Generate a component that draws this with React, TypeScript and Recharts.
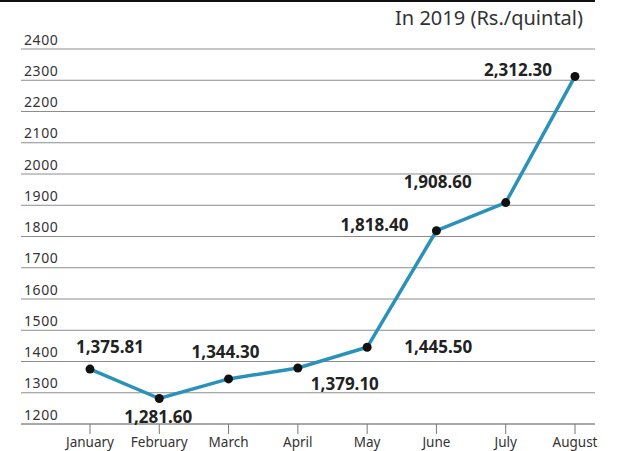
import { LineChart, Line, XAxis, YAxis, CartesianGrid, LabelList } from 'recharts'

const MONTHS = ['January', 'February', 'March', 'April', 'May', 'June', 'July', 'August']
const PRICES = [1375.81, 1281.6, 1344.3, 1379.1, 1445.5, 1818.4, 1908.6, 2312.3]
const PRICE_LABELS = ['1,375.81', '1,281.60', '1,344.30', '1,379.10', '1,445.50', '1,818.40', '1,908.60', '2,312.30']
const Y_TICKS = [1200, 1300, 1400, 1500, 1600, 1700, 1800, 1900, 2000, 2100, 2200, 2300, 2400]

// label placement relative to each dot (dx, dy)
const LABEL_OFFSETS: [number, number][] = [
  [20, -23],
  [-1, 18],
  [-3, -27],
  [47, 15],
  [71, -1],
  [-62, -6],
  [-68, -21],
  [-57, -7],
]

const FONT = '"Noto Sans", sans-serif'

const data = MONTHS.map((month, i) => ({ month, price: PRICES[i], label: PRICE_LABELS[i] }))

function YTick(props: any) {
  const { y, payload } = props
  return (
    <text
      x={24}
      y={y - 10}
      textAnchor="start"
      dominantBaseline="central"
      fontSize={14}
      letterSpacing={0.6}
      fill="#333"
      fontFamily={FONT}
    >
      {payload.value}
    </text>
  )
}

function ValueLabel(props: any) {
  const { x, y, value, index } = props
  const [dx, dy] = LABEL_OFFSETS[index] ?? [0, -15]
  return (
    <text
      x={x + dx}
      y={y + dy}
      textAnchor="middle"
      dominantBaseline="central"
      fontSize={17}
      fontWeight={700}
      fill="#222"
      fontFamily={FONT}
    >
      {value}
    </text>
  )
}

export default function App() {
  return (
    <div style={{ position: 'relative', width: 634, height: 451, background: '#fff', fontFamily: FONT }}>
      <style>{'body{margin:0}'}</style>
      <div style={{ position: 'absolute', left: 0, top: 0, width: 595, height: 2, background: '#111' }} />
      <div
        style={{
          position: 'absolute',
          right: 634 - 583,
          top: 4,
          fontSize: 20,
          color: '#333',
          whiteSpace: 'nowrap',
        }}
      >
        In 2019 (Rs./quintal)
      </div>
      <LineChart width={634} height={451} data={data} margin={{ top: 49, right: 39, left: 1, bottom: 0 }}>
        <CartesianGrid horizontal vertical={false} stroke="#8c8c8c" strokeWidth={1} />
        <XAxis
          dataKey="month"
          height={27}
          padding={{ left: 69, right: 20 }}
          tickSize={10}
          tickMargin={3}
          tickLine={{ stroke: '#777' }}
          axisLine={{ stroke: '#8c8c8c' }}
          tick={{ fontSize: 13.5, fill: '#333', fontFamily: FONT }}
          interval={0}
        />
        <YAxis
          width={20}
          domain={[1200, 2400]}
          ticks={Y_TICKS}
          tickLine={false}
          axisLine={false}
          tick={<YTick />}
          interval={0}
        />
        <Line
          type="linear"
          dataKey="price"
          stroke="#2a92b8"
          strokeWidth={3.5}
          dot={{ r: 4.5, fill: '#111', stroke: '#111', strokeWidth: 0 }}
          isAnimationActive={false}
        >
          <LabelList dataKey="label" content={<ValueLabel />} />
        </Line>
      </LineChart>
    </div>
  )
}
